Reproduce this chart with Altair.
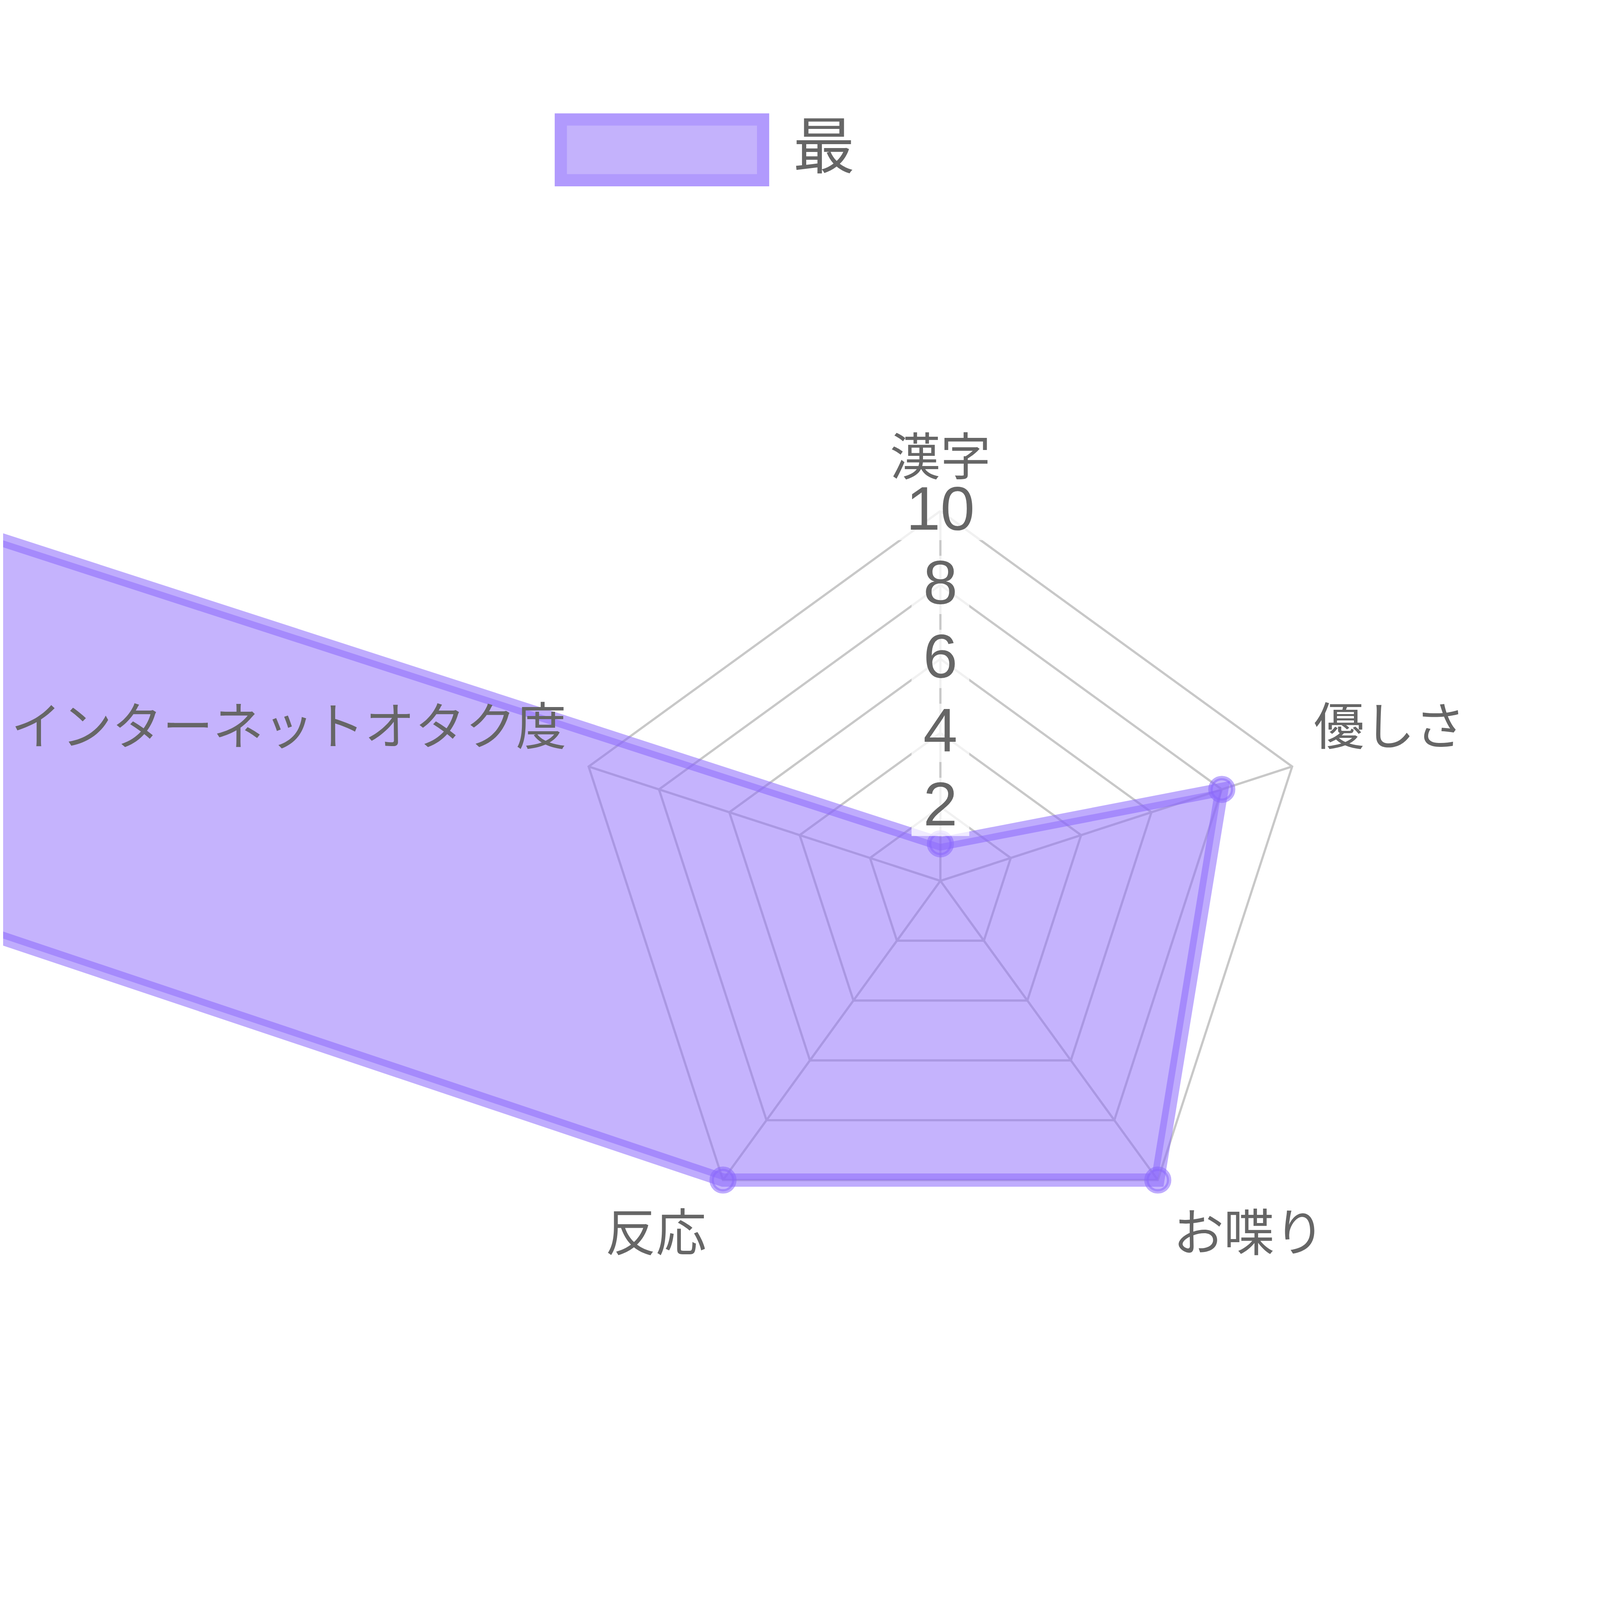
import math
import altair as alt
import pandas as pd

# ---------------- data ----------------
categories = ["漢字", "優しさ", "お喋り", "反応", "インターネットオタク度"]
values = [1, 8, 10, 10, 1000]          # last value runs far off the scale
series_name = "最"
tick_values = [2, 4, 6, 8, 10]
scale_max = 10

# ---------------- layout ----------------
W = H = 5744
UNIT = 133.3          # px per scale unit
CX, CY = 3378, 1992   # centre of the radar in plot pixels
XMIN, XMAX = -CX / UNIT, (W - CX) / UNIT
YMIN, YMAX = -(H - CY) / UNIT, CY / UNIT

n = len(categories)
angles = [2 * math.pi * i / n for i in range(n)]


def pol(r, a):
    return r * math.sin(a), r * math.cos(a)


def clip_left(ring, xc):
    """Sutherland-Hodgman clip of a closed ring against x >= xc."""
    out = []
    m = len(ring)
    for i in range(m):
        cur, nxt = ring[i], ring[(i + 1) % m]
        cin, nin = cur[0] >= xc, nxt[0] >= xc
        if cin:
            out.append((cur[0], cur[1], False))
        if cin != nin:
            t = (xc - cur[0]) / (nxt[0] - cur[0])
            out.append((xc, cur[1] + t * (nxt[1] - cur[1]), True))
    return out


ring = [pol(values[j], angles[j]) for j in range(n)]
clipped = clip_left(ring, XMIN - 0.2)
cut_idx = [i for i, p in enumerate(clipped) if p[2]]
if len(cut_idx) == 2:
    start = cut_idx[1]
    path = clipped[start:] + clipped[:start]
else:
    path = clipped + clipped[:1]
poly_df = pd.DataFrame({"x": [p[0] for p in path], "y": [p[1] for p in path],
                        "idx": list(range(len(path))), "series": series_name})

pt_rows = []
for j in range(n):
    x, y = ring[j]
    if XMIN <= x <= XMAX and YMIN <= y <= YMAX:
        pt_rows.append({"x": x, "y": y, "cat": categories[j]})
pt_df = pd.DataFrame(pt_rows)

grid_rows = []
for t in tick_values:
    for k in range(n + 1):
        j = k % n
        x, y = pol(t, angles[j])
        grid_rows.append({"x": x, "y": y, "idx": k, "ring": t})
grid_df = pd.DataFrame(grid_rows)

spoke_rows = []
for j in range(n):
    x2, y2 = pol(scale_max, angles[j])
    spoke_rows.append({"x": 0.0, "y": 0.0, "x2": x2, "y2": y2})
spoke_df = pd.DataFrame(spoke_rows)

lab_rows = []
for j in range(n):
    x, y = pol(scale_max, angles[j])
    lab_rows.append({"x": x, "y": y, "label": categories[j]})
lab_df = pd.DataFrame(lab_rows)

tick_df = pd.DataFrame({"x": [0.0] * len(tick_values), "y": tick_values,
                        "label": [str(t) for t in tick_values]})

xs = alt.Scale(domain=[XMIN, XMAX], nice=False, zero=False)
ys = alt.Scale(domain=[YMIN, YMAX], nice=False, zero=False)
X = alt.X("x:Q", scale=xs, axis=None)
Y = alt.Y("y:Q", scale=ys, axis=None)

GRID = "#c8c8c8"
PURPLE = "#8b67fb"
TXT = "#666666"
JP = "Noto Sans CJK JP"

grid = alt.Chart(grid_df).mark_line(stroke=GRID, strokeWidth=8).encode(
    x=X, y=Y, detail="ring:N", order="idx:Q")
spokes = alt.Chart(spoke_df).mark_rule(stroke=GRID, strokeWidth=8).encode(
    x=X, y=Y, x2="x2:Q", y2="y2:Q")

legend = alt.Legend(
    orient="none", legendX=1988, legendY=-1029, title=None, padding=0,
    symbolType="M-1,-0.3L1,-0.3L1,0.3L-1,0.3Z", symbolSize=729 ** 2,
    symbolStrokeWidth=44, symbolStrokeColor="#6537fd", symbolOpacity=0.5,
    labelFont=JP, labelFontSize=222, labelColor=TXT, labelOffset=86,
    labelLimit=0,
)

poly = alt.Chart(poly_df).mark_line(
    filled=True, fillOpacity=0.5, stroke=PURPLE, strokeOpacity=0.55,
    strokeWidth=48, strokeJoin="miter", clip=True,
).encode(
    x=X, y=Y, order="idx:Q",
    fill=alt.Fill("series:N", scale=alt.Scale(domain=[series_name], range=[PURPLE]),
                  legend=legend),
)

points = alt.Chart(pt_df).mark_circle(
    size=math.pi * 46 ** 2, fill=PURPLE, fillOpacity=0.5, stroke=PURPLE,
    strokeOpacity=0.55, strokeWidth=16, opacity=1, clip=True,
).encode(x=X, y=Y)

BD_H = 210
bd1 = alt.Chart(tick_df).transform_filter("length(datum.label) == 1").mark_point(
    shape="M-1,-%.3fL1,-%.3fL1,%.3fL-1,%.3fZ" % ((BD_H / 208,) * 4), size=208 ** 2,
    filled=True, fill="white", fillOpacity=0.75, strokeWidth=0, opacity=1,
).encode(x=X, y=Y)
bd2 = alt.Chart(tick_df).transform_filter("length(datum.label) == 2").mark_point(
    shape="M-1,-%.3fL1,-%.3fL1,%.3fL-1,%.3fZ" % ((BD_H / 338,) * 4), size=338 ** 2,
    filled=True, fill="white", fillOpacity=0.75, strokeWidth=0, opacity=1,
).encode(x=X, y=Y)

tick_text = alt.Chart(tick_df).mark_text(
    font="Liberation Sans", fontSize=222, color=TXT, align="center", baseline="middle",
).encode(x=X, y=Y, text="label:N")

label_style = {
    categories[0]: dict(align="center", dx=0, dy=-185),
    categories[1]: dict(align="left", dx=78, dy=-135),
    categories[2]: dict(align="left", dx=56, dy=200),
    categories[3]: dict(align="right", dx=-60, dy=200),
    categories[4]: dict(align="right", dx=-80, dy=-135),
}
label_layers = []
for cat, st in label_style.items():
    label_layers.append(
        alt.Chart(lab_df).transform_filter(alt.datum.label == cat).mark_text(
            font=JP, fontSize=182, color=TXT, baseline="middle", **st
        ).encode(x=X, y=Y, text="label:N")
    )

chart = alt.layer(grid, spokes, poly, points, bd1, bd2, tick_text, *label_layers).properties(
    width=W, height=H, padding=0,
    autosize=alt.AutoSizeParams(type="fit", contains="padding"),
).configure_view(stroke=None)

chart.save("out.html", embed_options={"renderer": "svg", "actions": False})
